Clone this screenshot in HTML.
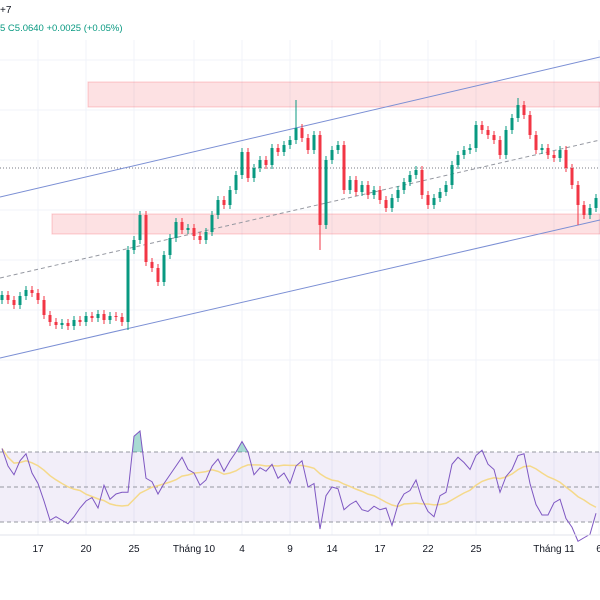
<!DOCTYPE html>
<html><head><meta charset="utf-8"><style>
body{margin:0;background:#fff;width:600px;height:600px;overflow:hidden;font-family:"Liberation Sans",sans-serif}
svg{display:block}
</style></head><body>
<svg id="c" width="600" height="600">
<rect width="600" height="600" fill="#fff"/>
<text x="0" y="13" font-size="10" fill="#131722">+7</text>
<text x="0" y="31" font-size="9.5" fill="#089981">5  C5.0640  +0.0025 (+0.05%)</text>
</svg>
<script>
const dateLabels=["17","20","25","Tháng 10","4","9","14","17","22","25","Tháng 11","6"];
const dateIdx=[6,14,22,32,40,48,55,63,71,79,92,99.5];
const closes=[4.905,4.900,4.895,4.904,4.910,4.907,4.900,4.885,4.878,4.875,4.877,4.874,4.880,4.878,4.884,4.882,4.886,4.880,4.884,4.883,4.878,4.950,4.960,4.985,4.938,4.932,4.918,4.945,4.962,4.978,4.970,4.972,4.964,4.960,4.968,4.985,5.000,4.995,5.010,5.025,5.048,5.022,5.032,5.040,5.035,5.052,5.048,5.055,5.060,5.072,5.062,5.050,5.065,4.975,5.040,5.050,5.055,5.010,5.020,5.008,5.015,5.005,5.010,5.000,4.992,5.002,5.010,5.018,5.025,5.030,5.005,4.995,5.002,5.008,5.015,5.035,5.045,5.050,5.052,5.075,5.070,5.065,5.060,5.045,5.070,5.082,5.095,5.085,5.065,5.050,5.052,5.045,5.042,5.050,5.032,5.015,4.995,4.985,4.992,5.002];
const rsi=[72,62,57,65,69,58,52,42,31,33,31,29,33,38,42,44,38,51,43,46,47,47,79,82,55,53,46,52,57,62,67,60,58,51,54,62,66,59,65,70,76,70,57,61,59,63,55,58,52,62,65,50,52,26,45,50,49,37,40,42,37,36,39,37,38,28,40,46,48,54,43,36,33,45,47,63,67,64,60,68,71,63,60,47,56,60,68,69,52,40,34,34,41,43,32,27,19,21,23,35];
const bigWicks={21:[4.950,4.870],49:[5.100,5.060],53:[5.058,4.950],86:[5.102,5.080],96:[5.000,4.975]};

const NS="http://www.w3.org/2000/svg";
const svg=document.getElementById('c');
function mk(t,a,parent){const e=document.createElementNS(NS,t);for(const k in a)e.setAttribute(k,a[k]);(parent||svg).appendChild(e);return e;}
const xS=i=>2+6*i;
const yS=p=>400-(p-4.80)*1000;
const rY=v=>487-(v-50)*1.75;

// grid
const grid=mk('g',{});


dateIdx.forEach(d=>{mk('line',{x1:xS(d),x2:xS(d),y1:40,y2:535,stroke:'#f0f3fa','stroke-width':1},grid);});
[60,110,160,210,260,310,360].forEach(y=>mk('line',{x1:0,x2:600,y1:y,y2:y,stroke:'#f0f3fa'},grid));

// zones
const z1=mk('rect',{x:88,y:82,width:512,height:25,fill:'rgba(242,54,69,0.15)',stroke:'rgba(242,54,69,0.25)'});


const z2=mk('rect',{x:52,y:214,width:548,height:20,fill:'rgba(242,54,69,0.15)',stroke:'rgba(242,54,69,0.25)'});


const hl=mk('line',{x1:0,x2:600,y1:168,y2:168,stroke:'#787b86','stroke-dasharray':'1 2'});



// channel
const cu=mk('line',{x1:0,y1:197,x2:600,y2:57,stroke:'#7b8fd4','stroke-width':1});


const cl=mk('line',{x1:0,y1:358,x2:600,y2:220,stroke:'#7b8fd4','stroke-width':1});


const cm=mk('line',{x1:0,y1:278,x2:600,y2:140,stroke:'#9598a1','stroke-dasharray':'4 3'});



// candles
const cg=mk('g',{});


closes.forEach((c,i)=>{
  const o=i===0?4.900:closes[i-1];
  let hi=Math.max(o,c)+0.004,lo=Math.min(o,c)-0.004;
  if(bigWicks[i]){hi=Math.max(hi,bigWicks[i][0]);lo=Math.min(lo,bigWicks[i][1]);}
  const col=c>=o?'#089981':'#f23645';
  const g=mk('g',{},cg);
  
  
  mk('line',{x1:xS(i),x2:xS(i),y1:yS(hi),y2:yS(lo),stroke:col,'stroke-width':1},g);
  const yt=yS(Math.max(o,c)),yb=yS(Math.min(o,c));
  mk('rect',{x:xS(i)-1.5,y:yt,width:3,height:Math.max(1,yb-yt),fill:col},g);
});

// RSI panel
const rp=mk('g',{});


mk('rect',{x:0,y:rY(70),width:600,height:rY(30)-rY(70),fill:'rgba(126,87,194,0.1)'},rp);
[70,50,30].forEach(v=>{const l=mk('line',{x1:0,x2:600,y1:rY(v),y2:rY(v),stroke:'#9598a1','stroke-dasharray':'4 3'},rp);

});
const pts=rsi.map((v,i)=>xS(i)+','+rY(v)).join(' ');
// overbought fill
const defs=mk('defs',{});
const cp=mk('clipPath',{id:'ob'},defs);
mk('rect',{x:0,y:0,width:600,height:rY(70)},cp);
const ob=mk('polygon',{points:pts+' '+xS(rsi.length-1)+','+rY(70)+' '+xS(0)+','+rY(70),fill:'rgba(8,153,129,0.35)','clip-path':'url(#ob)'},rp);


// MA
const ma=rsi.map((v,i)=>{const s=rsi.slice(Math.max(0,i-13),i+1);return s.reduce((a,b)=>a+b,0)/s.length;});
const mal=mk('polyline',{points:ma.map((v,i)=>xS(i)+','+rY(v)).join(' '),fill:'none',stroke:'#f5d98a','stroke-width':1.5},rp);


const rl=mk('polyline',{points:pts,fill:'none',stroke:'#7e57c2','stroke-width':1},rp);



// date axis
const ax=mk('g',{});


mk('line',{x1:0,x2:600,y1:535,y2:535,stroke:'#e0e3eb'},ax);
dateLabels.forEach((t,k)=>{const e=mk('text',{x:xS(dateIdx[k]),y:552,'font-size':10,'text-anchor':'middle',fill:'#131722'},ax);e.textContent=t;

});
</script>
</body></html>
